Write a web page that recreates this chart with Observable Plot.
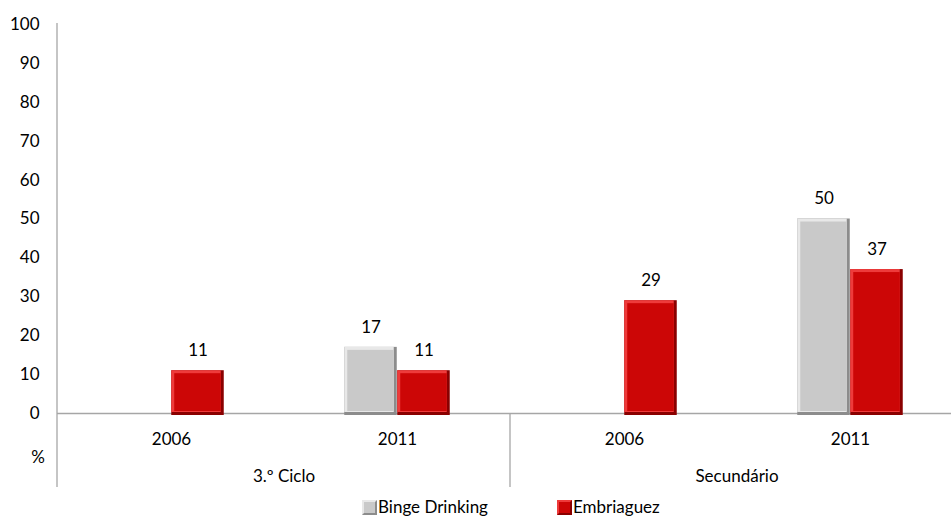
<!DOCTYPE html>
<html>
<head>
<meta charset="utf-8">
<script src="https://cdn.jsdelivr.net/npm/d3@7"></script>
<script src="https://cdn.jsdelivr.net/npm/@observablehq/plot@0.6"></script>
<style>
  body { margin: 0; background: #fff; font-family: Lato, "Liberation Sans", sans-serif; }
  #wrap { position: relative; width: 951px; height: 516px; overflow: hidden; }
  .leg { position: absolute; top: 498px; font-size: 17px; line-height: 18px; display: flex; align-items: center; color: #000; white-space: nowrap; }
  .sw { width: 15px; height: 15px; box-sizing: border-box; margin-right: 1px; }
</style>
</head>
<body>
<div id="wrap"></div>
<script>
// ---- data ----
const groupNames = ["3.º Ciclo", "Secundário"];
const yearNames = ["2006", "2011"];
const groups = ["3.º Ciclo", "3.º Ciclo", "Secundário", "Secundário"];
const years = ["2006", "2011", "2006", "2011"];
const seriesNames = ["Binge Drinking", "Embriaguez"];
const bingeDrinking = [null, 17, null, 50];
const embriaguez = [11, 11, 29, 37];
const yTicks = [0, 10, 20, 30, 40, 50, 60, 70, 80, 90, 100];

const rows = [];
years.forEach((yr, i) => {
  if (bingeDrinking[i] != null) rows.push({group: groups[i], year: yr, series: seriesNames[0], value: bingeDrinking[i]});
  if (embriaguez[i] != null) rows.push({group: groups[i], year: yr, series: seriesNames[1], value: embriaguez[i]});
});

// ---- layout ----
const W = 951, H = 496;
const mL = 57, mT = 24, mB = 83;
const fxRange = [mL, 963];
const bandW = (fxRange[1] - fxRange[0]) / 4; // width of one year band
const barW = 53;
const half = bandW / 2;
const bev = 3;
const FS = 17;

const styles = {
  [seriesNames[0]]: {dark: "#8c8c8c", light: "#e8e8e8", main: "#c9c9c9", side: -1},
  [seriesNames[1]]: {dark: "#8a0000", light: "#ee3b3b", main: "#cc0606", side: 1}
};

function bevelBars(series) {
  const s = styles[series];
  const data = rows.filter(d => d.series === series);
  const inL = s.side < 0 ? half - barW : half;
  const inR = s.side < 0 ? half : half - barW;
  const c = {fx: "group", x: "year", y: "value"};
  return [
    Plot.barY(data, {...c, fill: s.dark, insetLeft: inL, insetRight: inR, insetBottom: -2}),
    Plot.barY(data, {...c, fill: s.light, insetLeft: inL, insetRight: inR + bev, insetBottom: bev - 2}),
    Plot.barY(data, {...c, fill: s.main, insetLeft: inL + bev, insetRight: inR + bev, insetTop: bev, insetBottom: bev - 1}),
    Plot.text(data, {...c, text: d => String(d.value), dy: -20, dx: s.side * barW / 2, fill: "#000", fontSize: FS})
  ];
}

const plot = Plot.plot({
  width: W,
  height: H,
  marginLeft: mL,
  marginRight: 0,
  marginTop: mT,
  marginBottom: mB,
  style: {fontFamily: "Lato, 'Liberation Sans', sans-serif", fontSize: FS + "px", color: "#000", background: "transparent", overflow: "visible"},
  fx: {domain: groupNames, range: fxRange, padding: 0, label: null, axis: "bottom", tickSize: 0, tickPadding: 56},
  x: {domain: yearNames, padding: 0, label: null, axis: "bottom", tickSize: 0, tickPadding: 19},
  y: {domain: [0, 100], ticks: yTicks, tickSize: 0, tickPadding: 18, label: null},
  marks: [
    Plot.ruleY([0], {stroke: "#a6a6a6", strokeWidth: 1.3}),
    ...bevelBars(seriesNames[0]),
    ...bevelBars(seriesNames[1])
  ]
});

document.getElementById("wrap").appendChild(plot);

// decoration: axis lines, separator and unit label
const svg = d3.select(plot);
const y = plot.scale("y");
const fx = plot.scale("fx");
const y0 = y.apply(0);
const yBottom = y0 + 74;
svg.append("line")
  .attr("x1", mL).attr("x2", mL)
  .attr("y1", y.apply(100) - 1).attr("y2", yBottom)
  .attr("stroke", "#a6a6a6").attr("stroke-width", 1.3);
const sepX = fx.apply(groupNames[1]);
svg.append("line")
  .attr("x1", sepX).attr("x2", sepX)
  .attr("y1", y0).attr("y2", yBottom)
  .attr("stroke", "#a6a6a6").attr("stroke-width", 1.3);
svg.append("text")
  .attr("x", 38).attr("y", y0 + 44)
  .attr("text-anchor", "middle")
  .attr("dy", "0.35em")
  .attr("fill", "#000")
  .attr("font-size", FS)
  .text("%");

// legend
const wrap = document.getElementById("wrap");
const legPos = [362, 557];
seriesNames.forEach((name, i) => {
  const s = styles[name];
  const item = document.createElement("div");
  item.className = "leg";
  item.style.left = legPos[i] + "px";
  const sw = document.createElement("span");
  sw.className = "sw";
  sw.style.background = s.main;
  sw.style.borderTop = "2px solid " + s.light;
  sw.style.borderLeft = "2px solid " + s.light;
  sw.style.borderRight = "2px solid " + s.dark;
  sw.style.borderBottom = "2px solid " + s.dark;
  const t = document.createElement("span");
  t.textContent = name;
  item.appendChild(sw);
  item.appendChild(t);
  wrap.appendChild(item);
});
</script>
</body>
</html>
